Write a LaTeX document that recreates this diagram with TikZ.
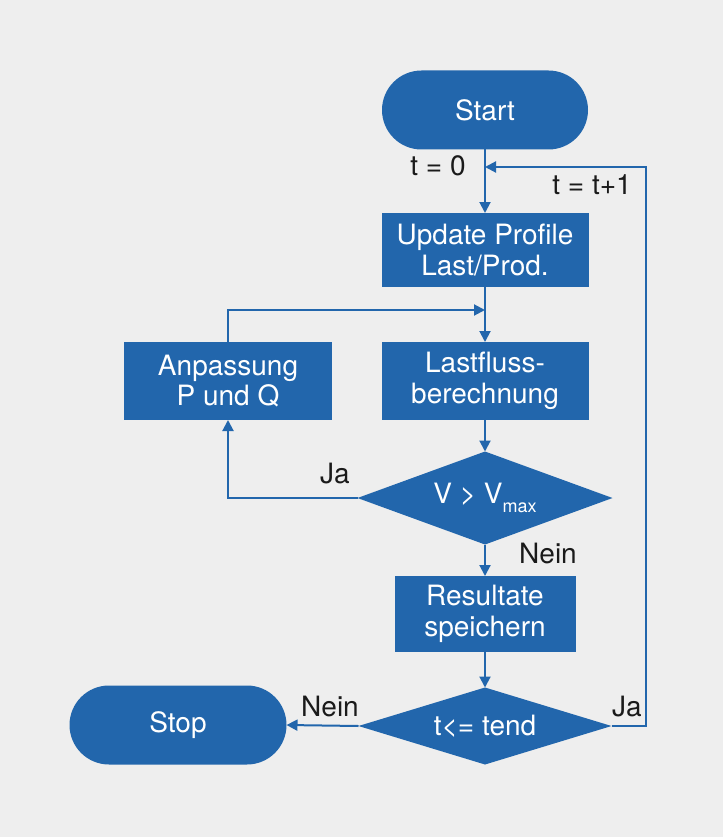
\documentclass[tikz,border=0pt]{standalone}
\usepackage{fontspec}
\setmainfont{TeX Gyre Heros}
\usetikzlibrary{arrows.meta,shapes.geometric,shapes.misc}
\definecolor{fblue}{RGB}{34,102,172}
\definecolor{bg}{RGB}{238,238,238}
\definecolor{lbl}{RGB}{26,26,26}
\begin{document}
\begin{tikzpicture}[x=1pt,y=-1pt,
  txt/.style={font=\fontsize{28}{30.5}\selectfont},
  boxnode/.style={txt,fill=fblue,text=white,draw=none,inner sep=0pt,outer sep=0pt,align=center},
  procbox/.style={boxnode,rectangle},
  termnode/.style={boxnode,rounded rectangle,minimum width=217pt,minimum height=79pt},
  decnode/.style={boxnode,diamond,aspect=2.75,minimum width=255pt,minimum height=93pt},
  conn/.style={draw=fblue,line width=2pt,-{Triangle[length=11pt,width=11pt]}},
  label/.style={txt,text=lbl,inner sep=0pt}]
\fill[bg] (0,0) rectangle (723,837);
\useasboundingbox (0,0) rectangle (723,837);

\node[termnode,minimum width=206pt] (start) at (485,110) {Start};
\node[procbox,minimum width=207pt,minimum height=74pt] (upd) at (485,250) {Update Profile\\Last/Prod.};
\node[procbox,minimum width=208pt,minimum height=78pt] (anp) at (228,381) {Anpassung\\P und Q};
\node[procbox,minimum width=207pt,minimum height=78pt] (lf) at (485,381) {Lastfluss-\\berechnung};
\node[decnode] (d1) at (485,498) {V > V\raisebox{-0.6ex}{\fontsize{18}{18}\selectfont max}};
\node[procbox,minimum width=181pt,minimum height=76pt] (res) at (485,614) {Resultate\\speichern};
\node[decnode,minimum width=253pt,minimum height=77pt] (d2) at (485,726) {t<= tend};
\node[termnode] (stop) at (178,725) {Stop};

\coordinate (loopR) at (646,167);
\coordinate (join) at (485,310);

\draw[conn] (start.south) -- (upd.north);
\draw[conn] (d2.east) -| (loopR) -- (start.south |- loopR);
\draw[conn] (upd.south) -- (lf.north);
\draw[conn] (anp.north) |- (join);
\draw[conn] (lf.south) -- (d1.north);
\draw[conn] (d1.west) -| (anp.south);
\draw[conn] (d1.south) -- (res.north);
\draw[conn] (res.south) -- (d2.north);
\draw[conn] (d2.west) -- (stop.east);

\node[label] (l1) at (438,166) {t = 0};
\node[label] (l2) at (592,185) {t = t+1};
\node[label] (l3) at (335,474) {Ja};
\node[label] (l4) at (548,553) {Nein};
\node[label] (l5) at (330,706) {Nein};
\node[label] (l6) at (627,707) {Ja};
\end{tikzpicture}
\end{document}
